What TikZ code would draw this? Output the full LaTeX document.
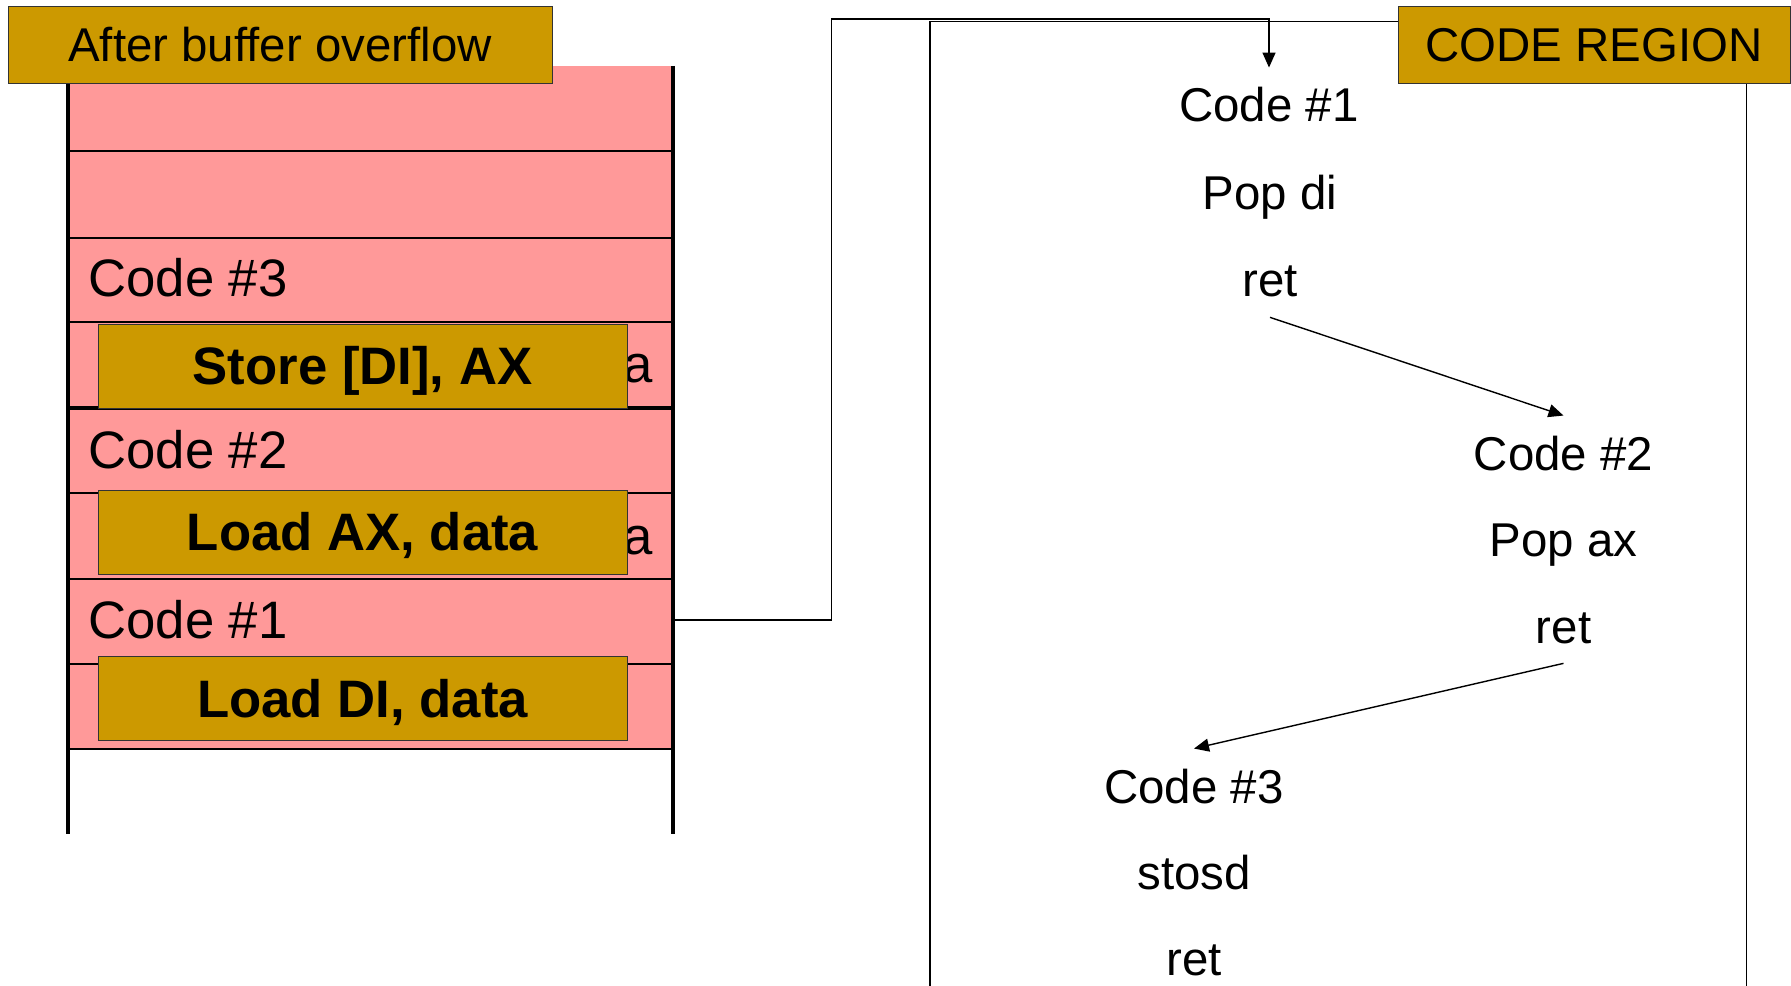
\documentclass[tikz,border=0pt]{standalone}
\usepackage{fontspec}
\setmainfont{Liberation Sans}
\usepackage{xcolor}
\usetikzlibrary{arrows.meta}

\definecolor{gold}{HTML}{CC9900}
\definecolor{stackpink}{HTML}{FF9999}

\begin{document}
\begin{tikzpicture}[x=0.02cm, y=-0.02cm,
  tag/.style={draw=black!80, fill=gold, inner sep=0pt, minimum height=1.54cm,
    font=\fontsize{27}{32}\selectfont, text height=19.4pt, text depth=0pt},
  goldbox/.style={draw=black!80, fill=gold, inner sep=0pt, minimum width=10.58cm,
    minimum height=1.68cm, font=\fontsize{30}{36}\selectfont\bfseries,
    text height=21.6pt, text depth=0pt},
  slot/.style={anchor=base west, inner sep=0pt, font=\fontsize{30}{36}\selectfont},
  codeline/.style={anchor=base, inner xsep=2pt, inner ysep=0.4cm,
    font=\fontsize{27}{32}\selectfont, text height=19.4pt, text depth=0pt},
  jump/.style={-{Triangle[length=0.3cm, width=0.26cm]}, line width=0.8pt}]
  \clip (0, 0) rectangle (1791, 986);

  % Stack after the overflow
  \fill[stackpink] (68, 66) rectangle (673, 749);
  \draw[line width=1.4pt] (68, 151) -- (673, 151);
  \draw[line width=1.4pt] (68, 238) -- (673, 238);
  \draw[line width=1.4pt] (68, 322) -- (673, 322);
  \draw[line width=2.8pt] (68, 408) -- (673, 408);
  \draw[line width=1.4pt] (68, 493) -- (673, 493);
  \draw[line width=1.4pt] (68, 579) -- (673, 579);
  \draw[line width=1.4pt] (68, 664) -- (673, 664);
  \draw[line width=1.4pt] (68, 749) -- (673, 749);
  \draw[line width=2.8pt] (68, 66) -- (68, 834);
  \draw[line width=2.8pt] (673, 66) -- (673, 834);

  % Slot labels
  \node[slot] (slot3) at (88, 297) {Code \#3};
  \node[slot] (slot2) at (88, 468) {Code \#2};
  \node[slot] (slot1) at (88, 638) {Code \#1};
  \node[slot, anchor=base east] (tail3) at (653, 382) {a};
  \node[slot, anchor=base east] (tail2) at (653, 554) {a};

  % Instructions on the stack
  \node[goldbox] (store) at (362.6, 366) {Store [DI], AX};
  \node[goldbox] (loadax) at (362.6, 532) {Load AX, data};
  \node[goldbox] (loaddi) at (362.6, 698.5) {Load DI, data};

  \node[tag, minimum width=10.88cm] (title) at (280, 44.5) {After buffer overflow};

  % Code region
  \draw[line width=0.8pt] (930, 1000) -- (930, 21.5) -- (1746.5, 21.5) -- (1746.5, 1000);
  \node[tag, minimum width=7.84cm] (region) at (1594, 44.5) {CODE REGION};

  \node[codeline] (rc1) at (1269, 122) {Code \#1};
  \node[codeline] (pop1) at (1270, 210) {Pop di};
  \node[codeline] (ret1) at (1270, 297) {ret};

  \node[codeline] (rc2) at (1563.5, 470) {Code \#2};
  \node[codeline] (pop2) at (1563.5, 556) {Pop ax};
  \node[codeline] (ret2) at (1563.5, 643) {ret};

  \node[codeline] (rc3) at (1194, 803) {Code \#3};
  \node[codeline] (sto3) at (1194, 889) {stosd};
  \node[codeline] (ret3) at (1194, 975) {ret};

  % Return chain
  \coordinate (out1) at (673, 620);
  \coordinate (turn) at (831.5, 19);
  \draw[jump] (out1) -| (turn) -| (rc1.north);
  \draw[jump] (ret1.south) -- (rc2.north);
  \draw[jump] (ret2.south) -- (rc3.north);
\end{tikzpicture}
\end{document}
